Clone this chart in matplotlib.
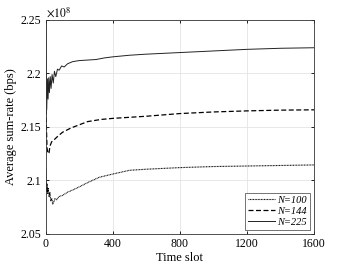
import numpy as np
import matplotlib.pyplot as plt
from matplotlib.ticker import FixedLocator, FixedFormatter

plt.rcParams['font.family'] = ['Liberation Serif', 'DejaVu Serif']
plt.rcParams['mathtext.fontset'] = 'stix'

# values in units of 1e8 bps
t_225 = [1, 3, 6, 10, 14, 18, 22, 27, 32, 38, 45, 52, 60, 70, 80, 95, 110, 130, 160,
         200, 250, 300, 350, 400, 500, 600, 800, 1000, 1200, 1400, 1600]
r_225 = [2.25, 2.20, 2.166, 2.195, 2.176, 2.196, 2.182, 2.197, 2.186, 2.199, 2.191,
         2.202, 2.197, 2.204, 2.203, 2.207, 2.206, 2.209, 2.211, 2.212, 2.2125, 2.213,
         2.2145, 2.2155, 2.217, 2.218, 2.2195, 2.221, 2.2225, 2.2235, 2.224]

t_144 = [1, 4, 8, 14, 20, 25, 35, 50, 70, 100, 150, 200, 250, 330, 400, 500, 600,
         800, 1000, 1200, 1400, 1600]
r_144 = [2.18, 2.15, 2.13, 2.125, 2.126, 2.132, 2.136, 2.138, 2.141, 2.145, 2.149,
         2.152, 2.155, 2.157, 2.158, 2.159, 2.160, 2.1625, 2.164, 2.165, 2.1657, 2.166]

t_100 = [1, 3, 5, 8, 11, 15, 20, 25, 30, 36, 42, 48, 55, 65, 80, 100, 130, 160, 200,
         250, 320, 400, 500, 600, 800, 1000, 1200, 1400, 1600]
r_100 = [2.112, 2.10, 2.09, 2.097, 2.088, 2.093, 2.085, 2.089, 2.081, 2.083, 2.078,
         2.08, 2.083, 2.082, 2.085, 2.086, 2.089, 2.091, 2.094, 2.098, 2.103, 2.106,
         2.1095, 2.1105, 2.112, 2.113, 2.1135, 2.114, 2.1145]

y_ticks = [2.05, 2.1, 2.15, 2.2, 2.25]
y_labels = ['2.05', '2.1', '2.15', '2.2', '2.25']
x_ticks = [0, 400, 800, 1200, 1600]

fig = plt.figure(figsize=(3.49, 2.62), dpi=100)
ax = fig.add_axes([0.131, 0.107, 0.769, 0.817])

ax.plot(t_100, r_100, color='black', lw=0.8, ls=(0, (0.8, 0.6)), label='N=100')
ax.plot(t_144, r_144, color='black', lw=0.9, ls=(0, (4, 2)), label='N=144')
ax.plot(t_225, r_225, color='#222222', lw=0.7, ls='-', label='N=225')

ax.set_xlim(0, 1600)
ax.set_ylim(2.05, 2.25)
ax.xaxis.set_major_locator(FixedLocator(x_ticks))
ax.yaxis.set_major_locator(FixedLocator(y_ticks))
ax.yaxis.set_major_formatter(FixedFormatter(y_labels))
ax.grid(True, color='#e4e4e4', lw=0.6)
ax.set_axisbelow(True)
ax.tick_params(direction='in', top=True, right=True, length=2.5, width=0.6,
               labelsize=8.5, pad=3)
for s in ax.spines.values():
    s.set_linewidth(0.6)
    s.set_color('#333333')

ax.set_xlabel('Time slot', fontsize=9, labelpad=1)
ax.set_ylabel('Average sum-rate (bps)', fontsize=9, labelpad=3)
ax.text(0.0, 1.0, r'$\times10^{8}$', transform=ax.transAxes, fontsize=8.5,
        ha='left', va='bottom')

leg = ax.legend(loc='lower right', fontsize=7.5, frameon=True, fancybox=False,
                edgecolor='#333333', handlelength=2.6, handletextpad=0.2,
                borderpad=0.3, labelspacing=0.15, borderaxespad=0.4)
leg.get_frame().set_linewidth(0.6)
for txt in leg.get_texts():
    txt.set_fontstyle('italic')

fig.savefig('out.png', dpi=100)
